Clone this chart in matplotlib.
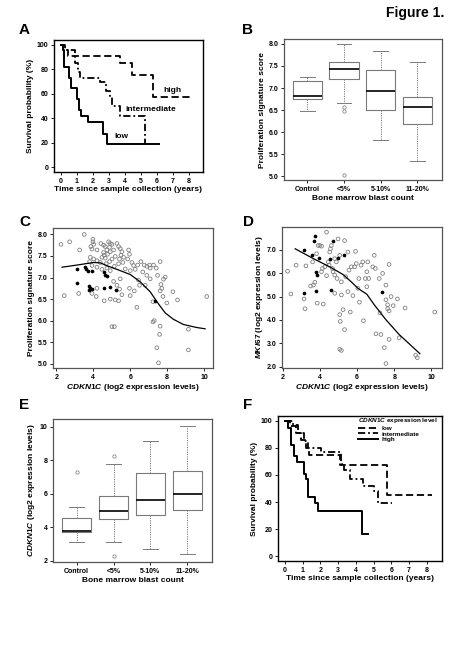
import matplotlib
matplotlib.use('Agg')
import matplotlib.pyplot as plt
from matplotlib.ticker import FormatStrFormatter

plt.rcParams['font.family'] = ['Liberation Sans', 'DejaVu Sans']
plt.rcParams['font.weight'] = 'bold'
plt.rcParams['axes.labelweight'] = 'bold'
plt.rcParams['mathtext.fontset'] = 'custom'
plt.rcParams['mathtext.it'] = 'Liberation Sans:italic:bold'
plt.rcParams['mathtext.rm'] = 'Liberation Sans:bold'
plt.rcParams['mathtext.bf'] = 'Liberation Sans:bold'

# ---------------- Data ----------------
# Panel A: Kaplan-Meier by proliferation signature
a_low_t = [0, 0.1, 0.19, 0.52, 0.6, 0.98, 1.12, 1.23, 1.7, 2.64, 2.89, 6.17]
a_low_s = [100, 96, 82, 73, 65, 55.6, 47, 42, 37, 27.4, 18.6, 18.6]
a_int_t = [0, 0.25, 0.87, 1.08, 1.2, 2.43, 2.8, 3.05, 3.2, 3.68, 5.28]
a_int_s = [100, 96, 85, 78, 73, 70, 62, 57, 50, 42, 19]
a_high_t = [0, 0.15, 0.45, 3.68, 4.47, 5.76, 8.25]
a_high_s = [100, 96, 91, 85, 75, 57, 57]

# Box plot groups
groups = ['Control', '<5%', '5-10%', '11-20%']
# Panel B: proliferation signature score
b_whislo = [6.49, 6.66, 5.83, 5.34]
b_q1 = [6.75, 7.21, 6.51, 6.19]
b_med = [6.81, 7.43, 6.94, 6.57]
b_q3 = [7.15, 7.60, 7.41, 6.79]
b_whishi = [7.24, 8.00, 7.83, 7.59]
b_fliers = [[], [6.58, 6.47, 5.04], [], []]

# Panel E: CDKN1C expression
e_whislo = [3.11, 3.11, 2.72, 2.42]
e_q1 = [3.73, 4.51, 4.75, 5.01]
e_med = [3.78, 4.95, 5.65, 5.97]
e_q3 = [4.57, 5.85, 7.21, 7.35]
e_whishi = [5.21, 7.80, 9.14, 10.04]
e_fliers = [[7.27], [8.24, 2.26], [], []]

# Panel C: CDKN1C vs proliferation score
c_gray_x = [2.25, 2.72, 3.26, 3.51, 3.98, 3.98, 4.02, 3.87, 3.93, 4.20, 4.41, 4.56, 4.65, 4.83,
            4.92, 5.01, 4.88, 4.74, 4.56, 4.59, 4.47, 4.65, 4.77, 4.92, 5.10, 5.28, 5.37, 5.46,
            5.55, 5.50, 5.64, 5.42, 5.19, 5.01, 4.88, 4.70, 4.38, 4.20, 4.02, 3.84, 3.80, 3.93,
            4.20, 4.47, 4.74, 4.92, 5.14, 5.37, 5.60, 5.91, 5.96, 5.86, 6.09, 6.18, 6.00, 5.73,
            6.27, 6.40, 6.58, 6.76, 6.90, 7.05, 7.08, 7.26, 7.41, 7.62, 7.48, 6.90, 6.68, 7.08,
            6.45, 6.50, 6.81, 6.22, 5.96, 5.46, 5.10, 5.28, 5.42, 5.55, 5.19, 5.37, 4.92, 4.59,
            4.16, 3.93, 4.20, 2.43, 3.21, 6.00, 6.36, 7.23, 7.62, 7.71, 7.80, 7.89, 7.66, 7.77,
            7.98, 8.31, 8.56, 10.14, 7.30, 7.23, 7.62, 7.59, 7.44, 7.53, 9.15, 9.15, 5.01, 5.14]
c_gray_y = [7.77, 7.83, 7.64, 8.00, 7.89, 7.83, 7.77, 7.72, 7.66, 7.64, 7.79, 7.75, 7.72, 7.83,
            7.79, 7.77, 7.70, 7.64, 7.58, 7.52, 7.47, 7.45, 7.54, 7.60, 7.64, 7.79, 7.72, 7.67,
            7.60, 7.52, 7.47, 7.43, 7.49, 7.43, 7.37, 7.32, 7.35, 7.39, 7.43, 7.47, 7.37, 7.28,
            7.24, 7.19, 7.22, 7.16, 7.26, 7.32, 7.35, 7.64, 7.54, 7.43, 7.35, 7.28, 7.16, 7.20,
            7.19, 7.29, 7.37, 7.29, 7.26, 7.29, 7.22, 7.29, 7.22, 7.37, 7.05, 7.05, 7.13, 6.97,
            6.94, 6.82, 6.82, 6.69, 6.75, 6.97, 6.91, 6.82, 6.73, 6.60, 6.48, 6.46, 6.50, 6.46,
            6.56, 6.63, 6.75, 6.58, 6.63, 6.58, 6.31, 6.44, 6.69, 6.75, 6.96, 7.01, 6.84, 6.56,
            6.41, 6.67, 6.48, 6.56, 6.00, 5.97, 5.87, 5.68, 5.37, 5.02, 5.80, 5.32, 5.86, 5.86]
c_black_x = [3.12, 3.57, 3.62, 3.69, 3.93, 3.12, 3.75, 3.80, 3.75, 3.93, 4.59, 4.65, 4.74,
             4.59, 4.92, 5.24, 7.32]
c_black_y = [7.20, 7.24, 7.20, 7.16, 7.16, 6.88, 6.81, 6.76, 6.71, 6.73, 7.13, 7.07, 7.04,
             6.75, 6.77, 6.72, 6.46]
c_fit_x = [2.31, 3.12, 4.02, 4.38, 4.83, 5.28, 6.00, 6.54, 7.08, 7.44, 7.89, 8.34, 8.88, 9.60, 10.05]
c_fit_y = [7.24, 7.29, 7.35, 7.34, 7.26, 7.19, 7.07, 6.90, 6.67, 6.44, 6.18, 6.03, 5.91, 5.84, 5.81]

# Panel D: CDKN1C vs MKI67
d_gray_x = [2.25, 2.43, 2.71, 3.14, 3.19, 3.24, 3.49, 3.64, 3.72, 3.60, 3.81, 3.90, 4.08, 3.85,
            4.17, 4.13, 4.08, 4.26, 4.35, 4.35, 4.44, 4.52, 4.56, 4.61, 4.67, 4.70, 4.79, 4.79,
            4.88, 4.92, 4.97, 5.06, 5.06, 5.09, 5.15, 5.15, 5.24, 5.32, 5.32, 5.38, 5.50, 5.50,
            5.56, 5.63, 5.68, 5.77, 5.86, 5.91, 5.95, 6.04, 6.09, 6.12, 6.21, 6.30, 6.34, 6.44,
            6.52, 6.62, 6.52, 6.57, 6.84, 6.92, 6.98, 7.01, 7.19, 7.23, 7.28, 7.37, 7.55, 7.64,
            7.72, 7.55, 7.64, 7.72, 7.72, 7.83, 7.94, 8.17, 8.26, 7.46, 7.55, 8.58, 9.15, 9.24,
            10.18, 3.99, 4.79, 4.49, 5.06, 5.15]
d_gray_y = [6.08, 5.11, 6.34, 4.90, 4.48, 6.31, 5.45, 5.49, 5.61, 6.48, 6.83, 7.18, 7.15, 4.72,
            4.68, 6.20, 6.06, 6.27, 7.75, 5.89, 6.48, 6.90, 7.04, 7.18, 6.20, 6.06, 5.92, 6.62,
            6.48, 5.77, 7.46, 6.76, 4.23, 3.94, 5.63, 5.07, 4.44, 7.39, 3.59, 5.85, 6.90, 5.21,
            6.13, 4.34, 6.27, 5.04, 6.27, 6.93, 6.41, 5.35, 5.77, 4.76, 6.34, 6.48, 3.97, 5.77,
            6.06, 5.77, 5.42, 6.48, 6.27, 6.76, 6.20, 3.41, 5.77, 4.30, 3.38, 5.99, 5.49, 4.65,
            6.37, 4.86, 4.48, 3.17, 4.39, 5.00, 4.61, 4.90, 3.24, 2.82, 2.14, 4.51, 2.49, 2.39,
            4.34, 7.18, 5.14, 6.34, 2.75, 2.70]
d_black_x = [3.72, 3.69, 3.14, 3.58, 3.96, 4.70, 4.52, 4.97, 5.27, 3.78, 3.81, 3.76, 3.14, 4.61, 7.33]
d_black_y = [7.58, 7.37, 6.99, 6.79, 6.65, 7.39, 6.59, 6.66, 6.76, 6.06, 5.94, 5.24, 5.14, 5.28, 5.21]
d_fit_x = [2.66, 3.64, 4.52, 5.24, 5.68, 6.04, 6.52, 6.92, 7.55, 8.26, 9.38]
d_fit_y = [7.04, 6.62, 6.27, 5.94, 5.63, 5.35, 5.10, 4.65, 4.01, 3.38, 2.56]

# Panel F: Kaplan-Meier by CDKN1C expression level
f_low_t = [0, 0.28, 0.6, 0.9, 1.2, 1.35, 3.1, 5.74, 8.3]
f_low_s = [100, 96, 91, 86, 80, 74.5, 67.5, 45, 45]
f_int_t = [0, 0.45, 0.75, 1.05, 1.3, 2.05, 3.15, 3.35, 3.65, 4.4, 5.05, 5.23, 6.03]
f_int_s = [100, 97, 91, 85, 80, 77, 68, 64, 57, 52, 48, 39, 39]
f_high_t = [0, 0.19, 0.32, 0.53, 0.66, 1.09, 1.2, 1.28, 1.69, 1.88, 4.37, 4.67]
f_high_s = [100, 95, 82, 74, 69.6, 61, 57, 44, 39, 33.3, 16.5, 16.5]

# ---------------- Figure ----------------
W, H = 450, 650
fig = plt.figure(figsize=(W / 100, H / 100), dpi=100)


def rect(l, t, r, b):
    return [l / W, 1 - b / H, (r - l) / W, (b - t) / H]


TICK = 5.0
LAB = 6.0
DASH = (0, (4, 2))
DASHDOT = (0, (4, 1.6, 1, 1.6))


def style(ax, spine='black', lw=0.9):
    for s in ax.spines.values():
        s.set_color(spine)
        s.set_linewidth(lw)
    ax.tick_params(direction='out', length=2.5, width=0.6, labelsize=TICK, pad=1.5)


def box(ax, whislo, q1, med, q3, whishi, fliers):
    stats = []
    for i in range(len(groups)):
        stats.append(dict(whislo=whislo[i], q1=q1[i], med=med[i], q3=q3[i],
                          whishi=whishi[i], fliers=fliers[i], label=groups[i]))
    ax.bxp(stats, positions=[1, 2, 3, 4], widths=0.8, capwidths=0.4,
           boxprops=dict(color='#7a7a7a', lw=0.8),
           medianprops=dict(color='black', lw=1.2),
           whiskerprops=dict(color='#7a7a7a', lw=0.7, linestyle=(0, (1.2, 1.2))),
           capprops=dict(color='#7a7a7a', lw=0.7),
           flierprops=dict(marker='o', mfc='none', mec='#8a8a8a', ms=2.4, mew=0.6))
    ax.set_xlim(0.36, 4.67)
    ax.set_xticks([1, 2, 3, 4])
    ax.set_xticklabels(groups)


# ---- A ----
axA = fig.add_axes(rect(54, 40, 203, 172))
style(axA, 'black', 1.0)
axA.step(a_high_t, a_high_s, where='post', color='black', lw=1.3, linestyle=DASH)
axA.step(a_int_t, a_int_s, where='post', color='black', lw=1.3, linestyle=DASHDOT)
axA.step(a_low_t, a_low_s, where='post', color='black', lw=1.4)
axA.set_xlim(-0.44, 8.9)
axA.set_ylim(-4, 104)
axA.set_xticks(range(0, 9))
axA.set_yticks(range(0, 101, 20))
axA.text(6.96, 62.5, 'high', fontsize=LAB, ha='center', va='center')
axA.text(5.6, 47, 'intermediate', fontsize=LAB, ha='center', va='center')
axA.text(3.8, 24.7, 'low', fontsize=LAB, ha='center', va='center')
axA.set_xlabel('Time since sample collection (years)', fontsize=LAB, labelpad=1)
axA.set_ylabel('Survival probability (%)', fontsize=LAB, labelpad=2)

# ---- B ----
axB = fig.add_axes(rect(284, 39, 442, 180))
style(axB, '#555555', 0.9)
box(axB, b_whislo, b_q1, b_med, b_q3, b_whishi, b_fliers)
axB.set_ylim(4.92, 8.11)
axB.set_yticks([5.0, 5.5, 6.0, 6.5, 7.0, 7.5, 8.0])
axB.yaxis.set_major_formatter(FormatStrFormatter('%.1f'))
axB.set_xlabel('Bone marrow blast count', fontsize=LAB, labelpad=2)
axB.set_ylabel('Proliferation signature score', fontsize=LAB, labelpad=2)

# ---- C ----
axC = fig.add_axes(rect(53, 228, 213, 368))
style(axC, '#555555', 0.9)
axC.scatter(c_gray_x, c_gray_y, s=7, facecolors='none', edgecolors='#808080', linewidths=0.6, zorder=2)
axC.scatter(c_black_x, c_black_y, s=7, color='black', linewidths=0, zorder=3)
axC.plot(c_fit_x, c_fit_y, color='black', lw=0.9, zorder=4)
axC.set_xlim(1.82, 10.48)
axC.set_ylim(4.9, 8.15)
axC.set_xticks([2, 4, 6, 8, 10])
axC.set_yticks([5.0, 5.5, 6.0, 6.5, 7.0, 7.5, 8.0])
axC.yaxis.set_major_formatter(FormatStrFormatter('%.1f'))
axC.set_xlabel(r'$\mathit{CDKN1C}$ (log2 expression levels)', fontsize=LAB, labelpad=1)
axC.set_ylabel('Proliferation signature score', fontsize=LAB, labelpad=2)

# ---- D ----
axD = fig.add_axes(rect(282, 227, 442, 368))
style(axD, '#555555', 0.9)
axD.scatter(d_gray_x, d_gray_y, s=7, facecolors='none', edgecolors='#808080', linewidths=0.6, zorder=2)
axD.scatter(d_black_x, d_black_y, s=7, color='black', linewidths=0, zorder=3)
axD.plot(d_fit_x, d_fit_y, color='black', lw=0.9, zorder=4)
axD.set_xlim(1.95, 10.57)
axD.set_ylim(1.95, 7.97)
axD.set_xticks([2, 4, 6, 8, 10])
axD.set_yticks([2.0, 3.0, 4.0, 5.0, 6.0, 7.0])
axD.yaxis.set_major_formatter(FormatStrFormatter('%.1f'))
axD.set_xlabel(r'$\mathit{CDKN1C}$ (log2 expression levels)', fontsize=LAB, labelpad=1)
axD.set_ylabel(r'$\mathit{MKI67}$ (log2 expression levels)', fontsize=LAB, labelpad=1)

# ---- E ----
axE = fig.add_axes(rect(53, 419, 212, 562))
style(axE, '#555555', 0.9)
box(axE, e_whislo, e_q1, e_med, e_q3, e_whishi, e_fliers)
axE.set_ylim(1.92, 10.46)
axE.set_yticks([2, 4, 6, 8, 10])
axE.set_xlabel('Bone marrow blast count', fontsize=LAB, labelpad=2)
axE.set_ylabel(r'$\mathit{CDKN1C}$ (log2 expression levels)', fontsize=LAB, labelpad=2)

# ---- F ----
axF = fig.add_axes(rect(278, 416, 442, 561))
style(axF, 'black', 1.0)
l1, = axF.step(f_low_t, f_low_s, where='post', color='black', lw=1.3, linestyle=DASH)
l2, = axF.step(f_int_t, f_int_s, where='post', color='black', lw=1.3, linestyle=DASHDOT)
l3, = axF.step(f_high_t, f_high_s, where='post', color='black', lw=1.4)
axF.set_xlim(-0.4, 8.87)
axF.set_ylim(-3.7, 103.7)
axF.set_xticks(range(0, 9))
axF.set_yticks(range(0, 101, 20))
leg = axF.legend([l1, l2, l3], ['low', 'intermediate', 'high'],
                 title=r'$\mathit{CDKN1C}$ expression level', loc='upper right',
                 bbox_to_anchor=(1.0, 1.03), frameon=False, fontsize=4.6,
                 title_fontsize=4.6, handlelength=3.2, labelspacing=0.05,
                 borderpad=0.2, handletextpad=0.5, alignment='left')
axF.set_xlabel('Time since sample collection (years)', fontsize=LAB, labelpad=1)
axF.set_ylabel('Survival probability (%)', fontsize=LAB, labelpad=2)

# ---- Panel letters and title ----
for letter, (x, y) in zip('ABCDEF', [(19, 23), (242, 23), (19, 215), (243, 215), (19, 398), (243, 398)]):
    fig.text(x / W, 1 - y / H, letter, fontsize=11, fontweight='bold', ha='left', va='top')
fig.text(444 / W, 1 - 6 / H, 'Figure 1.', fontsize=10, fontweight='bold', ha='right', va='top')

fig.savefig('out.png', dpi=100)
